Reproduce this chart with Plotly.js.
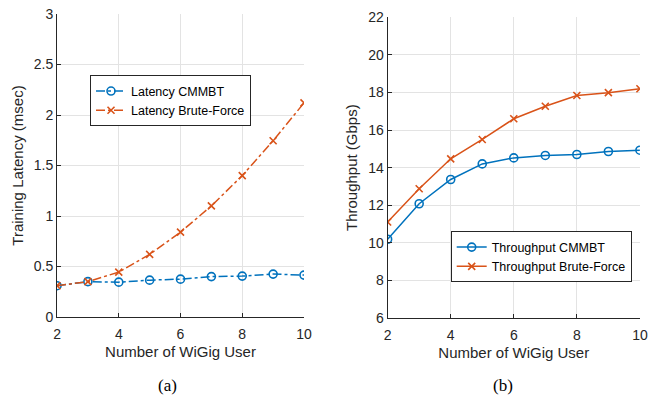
<!DOCTYPE html>
<html>
<head>
<meta charset="utf-8">
<script src="https://cdn.plot.ly/plotly-3.0.1.min.js"></script>
<style>
  html, body { margin: 0; padding: 0; background: #fff; }
  #chart { width: 657px; height: 397px; }
</style>
</head>
<body>
<div id="chart"></div>
<script>
// Number of WiGig users (shared x values)
const users = [2, 3, 4, 5, 6, 7, 8, 9, 10];

// (a) Training latency in msec
const latencyCMMBT = [0.31, 0.35, 0.345, 0.365, 0.375, 0.40, 0.405, 0.425, 0.415];
const latencyBrute = [0.31, 0.35, 0.445, 0.62, 0.84, 1.10, 1.40, 1.745, 2.12];

// (b) Throughput in Gbps
const throughputCMMBT = [10.19, 12.08, 13.37, 14.2, 14.52, 14.65, 14.7, 14.86, 14.93];
const throughputBrute = [11.11, 12.88, 14.47, 15.5, 16.6, 17.27, 17.84, 17.99, 18.2];

const BLUE = '#0072BD';
const ORANGE = '#D95319';
const AXIS = '#262626';
const GRID = '#e3e3e3';
const FONT = 'Liberation Sans, Arial, sans-serif';

const circle = { symbol: 'circle-open', size: 8, color: BLUE, line: { width: 1.6, color: BLUE } };
const cross = { symbol: 'x-thin-open', size: 7, color: ORANGE, line: { width: 1.6, color: ORANGE } };

const traces = [
  { x: users, y: latencyCMMBT, name: 'Latency CMMBT', xaxis: 'x', yaxis: 'y', legend: 'legend',
    mode: 'lines+markers', line: { color: BLUE, width: 1.5, dash: 'dashdot' }, marker: circle },
  { x: users, y: latencyBrute, name: 'Latency Brute-Force', xaxis: 'x', yaxis: 'y', legend: 'legend',
    mode: 'lines+markers', line: { color: ORANGE, width: 1.5, dash: 'dashdot' }, marker: cross },
  { x: users, y: throughputCMMBT, name: 'Throughput CMMBT', xaxis: 'x2', yaxis: 'y2', legend: 'legend2',
    mode: 'lines+markers', line: { color: BLUE, width: 1.5 }, marker: circle },
  { x: users, y: throughputBrute, name: 'Throughput Brute-Force', xaxis: 'x2', yaxis: 'y2', legend: 'legend2',
    mode: 'lines+markers', line: { color: ORANGE, width: 1.5 }, marker: cross }
];

function xAxis(domain, anchor) {
  return {
    domain: domain, anchor: anchor, range: [2, 10], dtick: 2, tick0: 2,
    showgrid: true, gridcolor: GRID, gridwidth: 1, zeroline: false,
    showline: true, linecolor: AXIS, linewidth: 1, mirror: false,
    ticks: 'inside', ticklen: 4, tickcolor: AXIS, ticklabelstandoff: 4,
    tickfont: { family: FONT, size: 14, color: AXIS },
    title: { text: 'Number of WiGig User', font: { family: FONT, size: 15, color: AXIS }, standoff: 5 }
  };
}
function yAxis(domain, anchor, range, dtick, title) {
  return {
    domain: domain, anchor: anchor, range: range, dtick: dtick, tick0: range[0],
    showgrid: true, gridcolor: GRID, gridwidth: 1, zeroline: false,
    showline: true, linecolor: AXIS, linewidth: 1, mirror: false,
    ticks: 'inside', ticklen: 4, tickcolor: AXIS,
    tickfont: { family: FONT, size: 14, color: AXIS },
    title: { text: title, font: { family: FONT, size: 15, color: AXIS }, standoff: 6 }
  };
}

const layout = {
  width: 657, height: 397,
  margin: { l: 0, r: 0, t: 0, b: 0 },
  paper_bgcolor: '#fff', plot_bgcolor: '#fff',
  xaxis: xAxis([0.0868, 0.4627], 'y'),
  yaxis: yAxis([0.2015, 0.9647], 'x', [0, 3], 0.5, 'Training Latency (msec)'),
  xaxis2: xAxis([0.590, 0.974], 'y2'),
  yaxis2: yAxis([0.199, 0.9564], 'x2', [6, 22], 2, 'Throughput (Gbps)'),
  legend: {
    x: 0.137, y: 0.81, xanchor: 'left', yanchor: 'top',
    bgcolor: '#fff', bordercolor: AXIS, borderwidth: 1,
    font: { family: FONT, size: 12.5, color: '#000' },
    tracegroupgap: 0, itemwidth: 30
  },
  legend2: {
    x: 0.686, y: 0.417, xanchor: 'left', yanchor: 'top',
    bgcolor: '#fff', bordercolor: AXIS, borderwidth: 1,
    font: { family: FONT, size: 12.5, color: '#000' },
    tracegroupgap: 0, itemwidth: 30
  },
  showlegend: true,
  annotations: [
    { text: '(a)', xref: 'paper', yref: 'paper', x: 0.255, y: 0.028, showarrow: false,
      xanchor: 'center', yanchor: 'middle', font: { family: 'Liberation Serif, Times New Roman, serif', size: 17, color: '#000' } },
    { text: '(b)', xref: 'paper', yref: 'paper', x: 0.765, y: 0.028, showarrow: false,
      xanchor: 'center', yanchor: 'middle', font: { family: 'Liberation Serif, Times New Roman, serif', size: 17, color: '#000' } }
  ]
};

Plotly.newPlot('chart', traces, layout, { displayModeBar: false, staticPlot: true });
</script>
</body>
</html>
